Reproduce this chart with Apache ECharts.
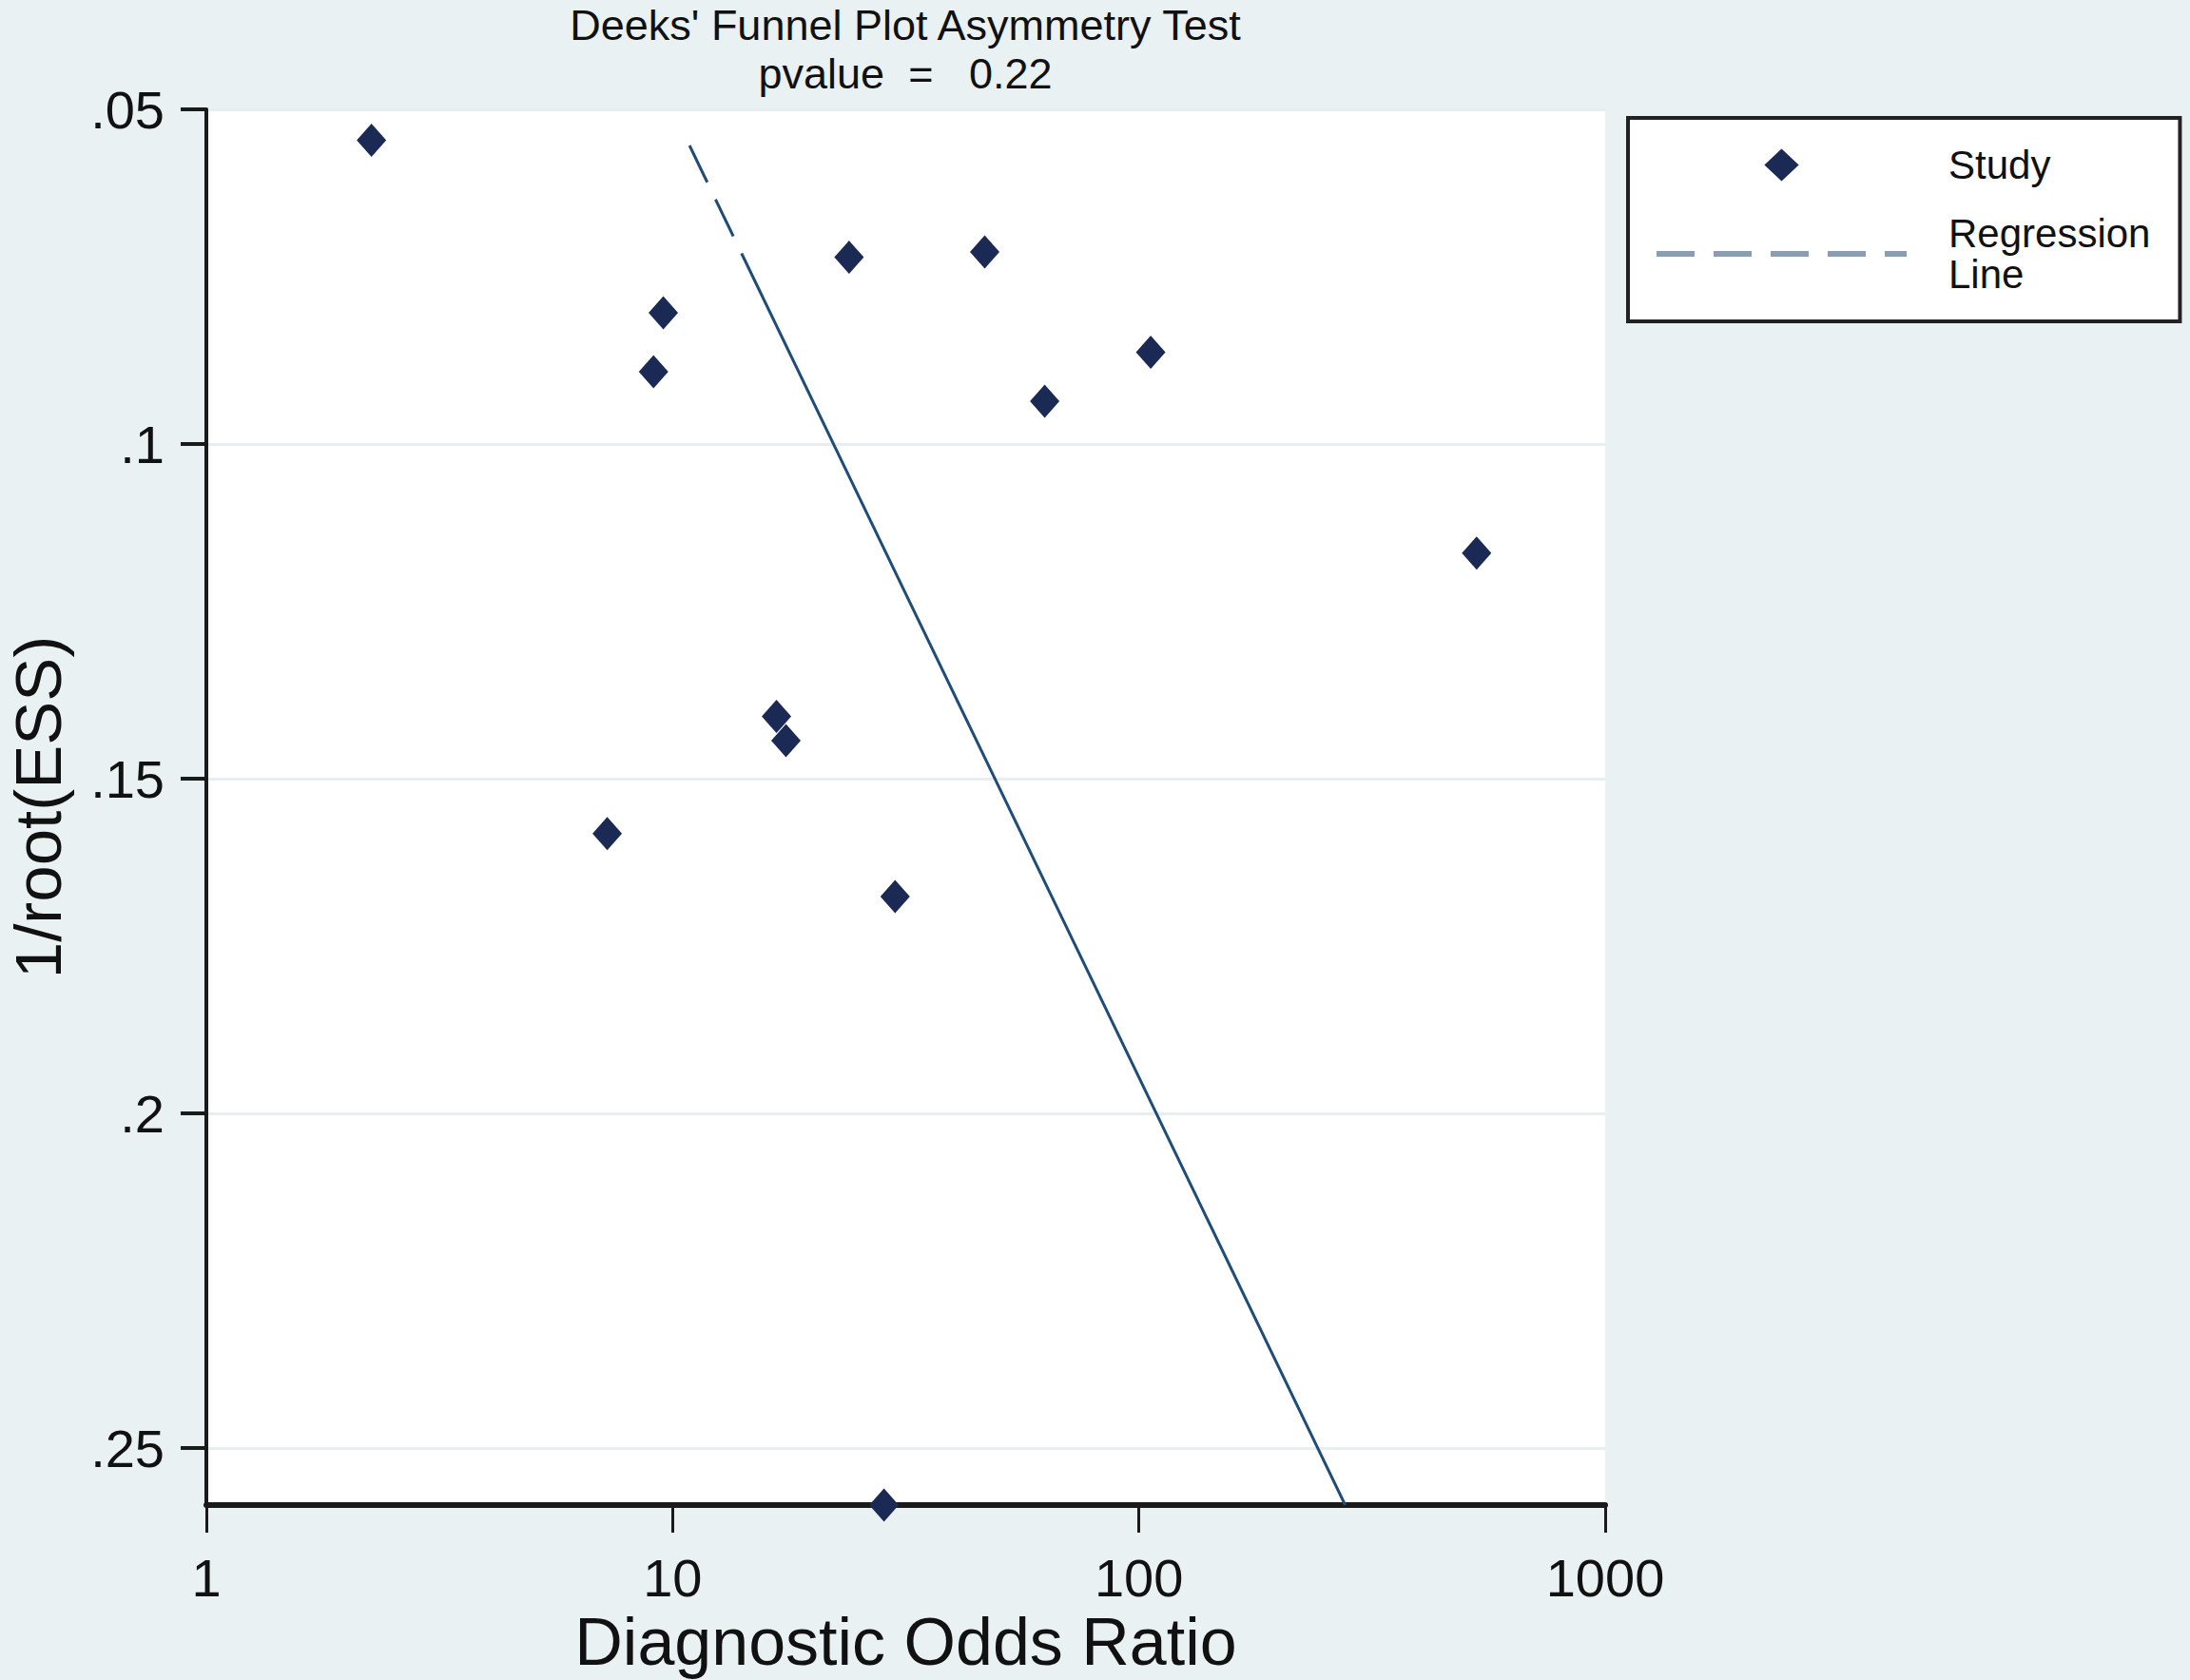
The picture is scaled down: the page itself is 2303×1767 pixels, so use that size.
<!DOCTYPE html>
<html>
<head>
<meta charset="utf-8">
<script src="https://cdn.jsdelivr.net/npm/echarts@6/dist/echarts.min.js"></script>
<style>
  html, body { margin: 0; padding: 0; background: #e9f1f3; }
  #chart { width: 2303px; height: 1767px; }
</style>
</head>
<body>
<div id="chart"></div>
<script>
// ---- data ----
const titleLines = ["Deeks' Funnel Plot Asymmetry Test", "pvalue  =   0.22"];
const xAxisName = "Diagnostic Odds Ratio";
const yAxisName = "1/root(ESS)";
const xTicks = [1, 10, 100, 1000];
const yTicks = [0.05, 0.1, 0.15, 0.2, 0.25];
const yRange = [0.05, 0.2585];
// study diagnostic odds ratios and 1/root(ESS)
const studyDOR = [2.26, 9.55, 9.1, 23.9, 46.7, 62.8, 106, 530, 16.7, 17.5, 7.24, 30.0, 28.4];
const studyESS = [0.0546, 0.0804, 0.0892, 0.0721, 0.0713, 0.0936, 0.0863, 0.1163, 0.1407, 0.1443, 0.1582, 0.1676, 0.2585];
// regression line end points
const regDOR = [10.87, 277];
const regESS = [0.0554, 0.2585];

const FONT = "'Liberation Sans', Arial, sans-serif";
const chart = echarts.init(document.getElementById('chart'), null, { renderer: 'svg' });

const fmtY = v => v.toFixed(2).replace(/^0/, '').replace(/0$/, '');

chart.setOption({
  backgroundColor: '#e9f1f3',
  animation: false,
  textStyle: { fontFamily: FONT },
  title: titleLines.map((t, i) => ({
    text: t,
    left: 952,
    top: 4 + i * 51,
    padding: 0,
    textAlign: 'center',
    textStyle: { fontFamily: FONT, fontSize: 45, fontWeight: 'normal', color: '#111', lineHeight: 45 }
  })),
  grid: {
    left: 217, right: 615, top: 115, bottom: 184,
    outerBoundsMode: 'none',
    containLabel: false,
    show: true, backgroundColor: '#ffffff', borderWidth: 0
  },
  legend: {
    orient: 'vertical',
    left: 1712, top: 124,
    padding: [28, 31, 28, 27],
    itemGap: 29,
    itemWidth: 263,
    itemHeight: 34,
    backgroundColor: '#ffffff',
    borderColor: '#222222',
    borderWidth: 4,
    selectedMode: false,
    symbolKeepAspect: true,
    formatter: name => name.replace(' ', '\n'),
    textStyle: { fontFamily: FONT, fontSize: 42, lineHeight: 43, color: '#111', padding: [0, 0, 0, 39] },
    data: [
      { name: 'Study', icon: 'path://M0,-31L33,0L0,31L-33,0Z', itemStyle: { color: '#1b2a55' } },
      {
        name: 'Regression Line',
        itemStyle: { color: 'rgba(0,0,0,0)', borderColor: 'rgba(0,0,0,0)', borderWidth: 0 },
        lineStyle: { type: [40, 20], color: '#8a9db3', width: 6 }
      }
    ]
  },
  xAxis: {
    type: 'log',
    logBase: 10,
    min: xTicks[0],
    max: xTicks[xTicks.length - 1],
    name: xAxisName,
    nameLocation: 'middle',
    nameGap: 86,
    nameTextStyle: { fontFamily: FONT, fontSize: 70, color: '#111' },
    axisLine: { show: true, onZero: false, lineStyle: { color: '#1a1a1a', width: 6 } },
    axisTick: { show: true, inside: false, length: 29, lineStyle: { color: '#1a1a1a', width: 3 } },
    minorTick: { show: false },
    axisLabel: { fontFamily: FONT, fontSize: 56, color: '#111', margin: 48, formatter: v => String(Math.round(v)) },
    splitLine: { show: false }
  },
  yAxis: {
    type: 'value',
    inverse: true,
    min: yRange[0],
    max: yRange[1],
    interval: 0.05,
    name: yAxisName,
    nameLocation: 'middle',
    nameGap: 142,
    nameTextStyle: { fontFamily: FONT, fontSize: 69, color: '#111' },
    axisLine: { show: true, onZero: false, lineStyle: { color: '#1a1a1a', width: 4 } },
    axisTick: { show: true, length: 27, customValues: yTicks, lineStyle: { color: '#1a1a1a', width: 4 } },
    axisLabel: { fontFamily: FONT, fontSize: 56, color: '#111', margin: 44, customValues: yTicks, formatter: fmtY },
    splitLine: { show: true, lineStyle: { color: '#e6eef1', width: 3 } }
  },
  series: [
    {
      name: 'Study',
      type: 'scatter',
      symbol: 'diamond',
      symbolSize: [31, 35],
      clip: false,
      z: 5,
      itemStyle: { color: '#1b2a55', opacity: 1 },
      data: studyDOR.map((d, i) => [d, studyESS[i]])
    },
    {
      name: 'Regression Line',
      type: 'line',
      symbol: 'none',
      showSymbol: false,
      z: 4,
      itemStyle: { color: '#1f4d78' },
      lineStyle: { color: '#1f4d78', width: 3, type: [43, 20, 43, 20, 4000, 0] },
      data: regDOR.map((d, i) => [d, regESS[i]])
    }
  ]
});
</script>
</body>
</html>
